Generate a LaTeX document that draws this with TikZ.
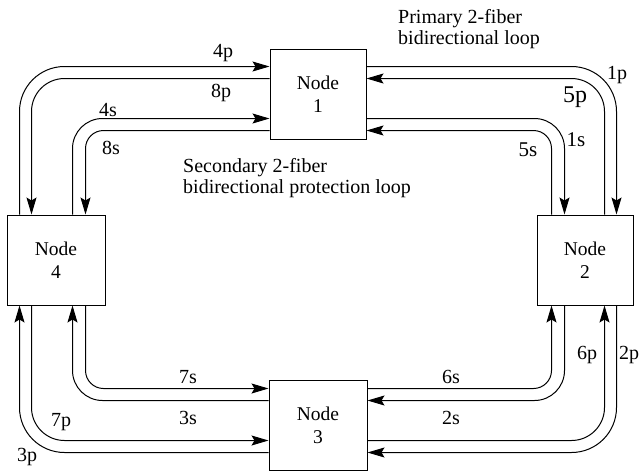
\documentclass[tikz,border=0pt]{standalone}
\usepackage{fontspec}
\setmainfont{Liberation Serif}
\usetikzlibrary{arrows.meta}

\begin{document}
\begin{tikzpicture}[
    x=1pt, y=-1pt,
    >={Stealth[length=17pt,width=10pt,inset=3pt]},
    station/.style={draw, line width=1pt, minimum width=96pt, minimum height=90pt, align=center, font=\fontsize{19.5}{23}\selectfont},
    arr/.style={->, line width=1pt},
    outer/.style={rounded corners=45pt},
    inner/.style={rounded corners=33pt},
    souter/.style={rounded corners=30pt},
    sinner/.style={rounded corners=18pt},
    lbl/.style={font=\fontsize{20}{20}\selectfont, inner sep=0pt},
    big/.style={font=\fontsize{24}{24}\selectfont, inner sep=0pt},
    mid/.style={font=\fontsize{21}{21}\selectfont, inner sep=0pt},
    note/.style={align=left, anchor=north west, inner sep=0pt, font=\fontsize{20}{21}\selectfont}
]
    \useasboundingbox (0,0) rectangle (639,474);

    \node[station] (n1) at (318,94) {Node\\1};
    \node[station] (n2) at (585,260) {Node\\2};
    \node[station, minimum width=98pt] (n3) at (318,425) {Node\\3};
    \node[station, minimum width=98pt] (n4) at (56,260) {Node\\4};

    % node 4 <-> node 1
    \draw[arr, outer] ([xshift=13pt]n4.north west) |- ([yshift=-18pt]n1.north west);
    \draw[arr, inner] ([yshift=-30pt]n1.north west) -| ([xshift=25pt]n4.north west);
    \draw[arr, souter] ([xshift=66pt]n4.north west) |- ([yshift=-70pt]n1.north west);
    \draw[arr, sinner] ([yshift=-82pt]n1.north west) -| ([xshift=79pt]n4.north west);

    % node 1 <-> node 2
    \draw[arr, outer] ([yshift=-18pt]n1.north east) -| ([xshift=-17pt]n2.north east);
    \draw[arr, inner] ([xshift=-29pt]n2.north east) |- ([yshift=-30pt]n1.north east);
    \draw[arr, souter] ([yshift=-70pt]n1.north east) -| ([xshift=-69pt]n2.north east);
    \draw[arr, sinner] ([xshift=-82pt]n2.north east) |- ([yshift=-82pt]n1.north east);

    % node 3 <-> node 4
    \draw[arr, outer] ([yshift=-73pt]n3.north west) -| ([xshift=13pt]n4.south west);
    \draw[arr, inner] ([xshift=25pt]n4.south west) |- ([yshift=-61pt]n3.north west);
    \draw[arr, souter] ([yshift=-21pt]n3.north west) -| ([xshift=66pt]n4.south west);
    \draw[arr, sinner] ([xshift=79pt]n4.south west) |- ([yshift=-9pt]n3.north west);

    % node 2 <-> node 3
    \draw[arr, outer] ([xshift=-17pt]n2.south east) |- ([yshift=-73pt]n3.north east);
    \draw[arr, inner] ([yshift=-61pt]n3.north east) -| ([xshift=-29pt]n2.south east);
    \draw[arr, souter] ([xshift=-69pt]n2.south east) |- ([yshift=-21pt]n3.north east);
    \draw[arr, sinner] ([yshift=-9pt]n3.north east) -| ([xshift=-82pt]n2.south east);

    % fiber labels
    \node[lbl] (l4p) at (223,53) {4p};
    \node[lbl] (l8p) at (221,93) {8p};
    \node[lbl] (l4s) at (108,110) {4s};
    \node[lbl] (l8s) at (111,148) {8s};
    \node[lbl] (l1p) at (617,75) {1p};
    \node[big] (l5p) at (575,97) {5p};
    \node[mid] (l1s) at (576,140) {1s};
    \node[mid] (l5s) at (528,150) {5s};
    \node[lbl] (l7s) at (188,377) {7s};
    \node[lbl] (l3s) at (188,418) {3s};
    \node[lbl] (l7p) at (61,422) {7p};
    \node[lbl] (l3p) at (27,457) {3p};
    \node[lbl] (l6s) at (451,377) {6s};
    \node[lbl] (l2s) at (451,418) {2s};
    \node[lbl] (l6p) at (587,355) {6p};
    \node[lbl] (l2p) at (629,355) {2p};

    \node[note] (prim) at (398,9) {Primary 2-fiber\\bidirectional loop};
    \node[note] (sec) at (183,158) {Secondary 2-fiber\\bidirectional protection loop};
\end{tikzpicture}
\end{document}
